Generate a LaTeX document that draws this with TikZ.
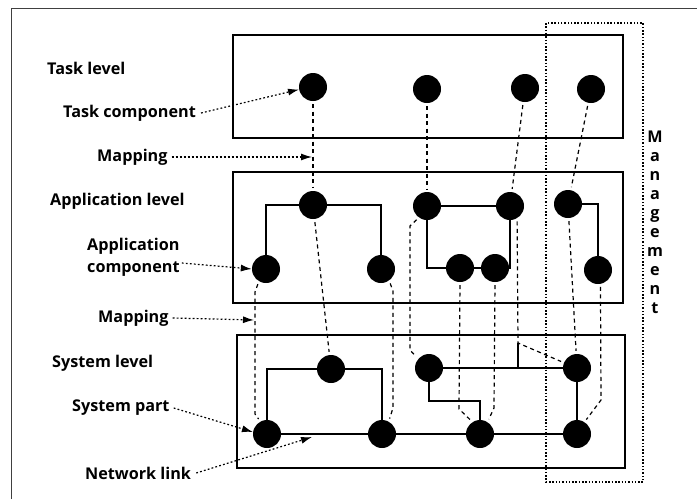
\documentclass[tikz,border=0pt]{standalone}
\usepackage{fontspec}
\setmainfont{Open Sans}
\newfontfamily\labfont{Open Sans}
\usetikzlibrary{arrows.meta}
\begin{document}
\begin{tikzpicture}[x=1pt,y=-1pt,
  dot/.style={circle,fill=black,minimum size=28pt,inner sep=0pt},
  levelbox/.style={draw=black,line width=1.4pt},
  wire/.style={draw=black,line width=1.1pt},
  mapline/.style={draw=black,line width=1.2pt,dash pattern=on 4pt off 3.5pt,shorten <=3pt,shorten >=3pt},
  pointer/.style={draw=black,line width=1.2pt,dash pattern=on 1.8pt off 2.2pt,-{Latex[length=11pt,width=7pt]}},
  lab/.style={font=\labfont\bfseries\fontsize{16.2}{22}\selectfont,anchor=west,inner sep=0pt},
  mgmtbox/.style={draw=black,line width=1.1pt,dash pattern=on 1.5pt off 1.8pt}
]
\useasboundingbox (0,0) rectangle (697,499);

% page frame
\draw[line width=1pt,black!75] (11,499) -- (11,8) -- (697,8);

% level boxes and management region
\draw[levelbox] (233,35) rectangle (623,138);
\draw[levelbox] (233,172) rectangle (623,303);
\draw[levelbox] (237,335) rectangle (625,468);
\draw[mgmtbox] (546,23) rectangle (643,482);

% task components
\node[dot] (T1) at (313,87) {};
\node[dot] (T2) at (427,89) {};
\node[dot] (T3) at (525,88) {};
\node[dot] (T4) at (591,89) {};

% application components
\node[dot] (A1) at (313,205) {};
\node[dot] (A2) at (427,206) {};
\node[dot] (A3) at (510,206) {};
\node[dot] (A4) at (568,204) {};
\node[dot] (A5) at (266,269) {};
\node[dot] (A6) at (381,269) {};
\node[dot] (A7) at (460,268) {};
\node[dot] (A8) at (495,268) {};
\node[dot] (A9) at (598,270) {};

% system parts
\node[dot] (S1) at (331,369) {};
\node[dot] (S2) at (429,368) {};
\node[dot] (S3) at (577,368) {};
\node[dot] (S4) at (267,434) {};
\node[dot] (S5) at (382,434) {};
\node[dot] (S6) at (480,434) {};
\node[dot] (S7) at (577,434) {};

% application links
\draw[wire] (A5) |- (A1) -| (A6);
\draw[wire] (A3) -- (A2) |- (A7) -- (A8) -| (A3);
\draw[wire] (A4) -| (A9);

% network links
\coordinate (k1) at (480,401);
\coordinate (j1) at (518,343);
\draw[wire] (S4) |- (S1) -| (S5);
\draw[wire] (S4) -- (S5) -- (S6) -- (S7);
\draw[wire] (S2) -- (S3);
\draw[wire] (S2) |- (k1) -- (S6);
\draw[wire] (S3) -- (S7);
\draw[wire] (j1) -- (j1 |- S2);

% task -> application mappings
\draw[mapline] (T1) -- (A1);
\draw[mapline] (T2) -- (A2);
\draw[mapline] (T3) -- (A3);
\draw[mapline] (T4) -- (A4);

% application -> system mappings
\draw[mapline] (A1) -- (S1);
\draw[mapline] (A4) -- (S3);
\draw[mapline] (A5.240) -- (255,292) -- (255,414) -- (S4.118);
\draw[mapline] (A6.-55) -- (393,291) -- (393,408) -- (S5.62);
\draw[mapline] (A2.235) -- (410,226) -- (410,350) -- (S2.140);
\draw[mapline] (A7.south) -- (459,409) -- (S6.122);
\draw[mapline] (A8.south) -- (494,408) -- (S6.58);
\draw[mapline] (A3.-60) -- (j1) -- (S3.158);
\draw[mapline] (A9.-80) -- (601,400) -- (S7.58);

% labels
\node[lab] (tl) at (47,68) {Task level};
\node[lab] (tc) at (63,113) {Task component};
\node[lab] (m1) at (97,157) {Mapping};
\node[lab] (al) at (50,201) {Application level};
\node[lab,align=left] (ac) at (87,257) {Application\\component};
\node[lab] (m2) at (98,318) {Mapping};
\node[lab] (sl) at (52,363) {System level};
\node[lab] (sp) at (72,408) {System part};
\node[lab] (nl) at (85,473) {Network link};
\node[font=\labfont\bfseries\fontsize{16.2}{19}\selectfont,align=center,inner sep=0pt] (mg) at (655,222)
  {M\\a\\n\\a\\g\\e\\m\\e\\n\\t};

% pointers from labels
\coordinate (mp1) at (312,157);
\coordinate (mp2) at (254,320);
\coordinate (nlt) at (312,437);
\draw[pointer] ([xshift=5pt]tc.east) -- (T1.190);
\draw[pointer] ([xshift=4pt]m1.east) -- (mp1);
\draw[pointer] ([xshift=2pt,yshift=6pt]ac.east |- A5) -- (A5.west);
\draw[pointer] ([xshift=4pt]m2.east) -- (mp2);
\draw[pointer] ([xshift=4pt]sp.east) -- (S4.172);
\draw[pointer] ([xshift=5pt]nl.east) -- (nlt);
\end{tikzpicture}
\end{document}
